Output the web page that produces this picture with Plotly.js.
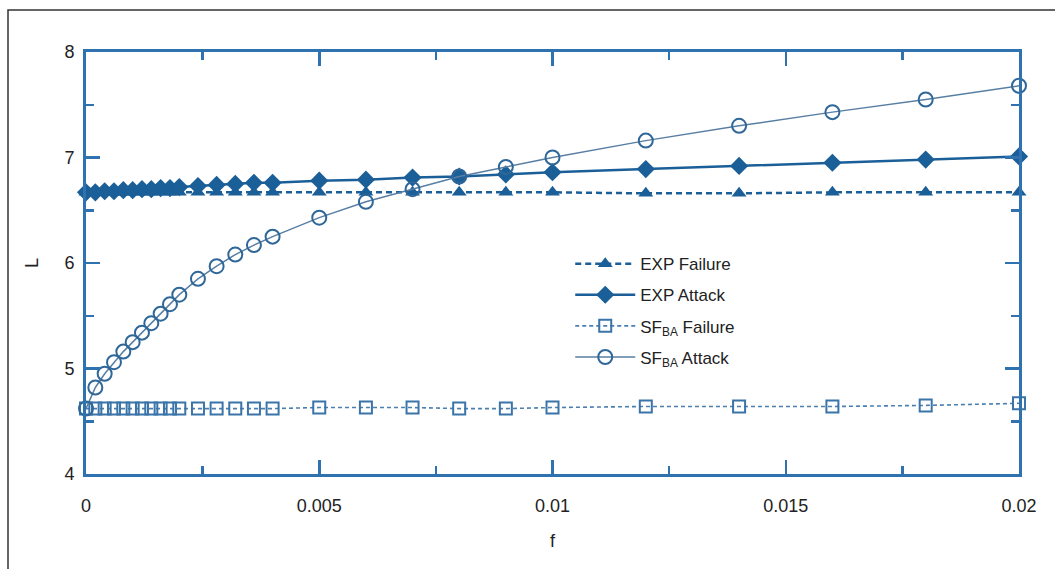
<!DOCTYPE html>
<html>
<head>
<meta charset="utf-8">
<script src="https://cdn.plot.ly/plotly-3.0.1.min.js"></script>
<style>html,body{margin:0;padding:0;background:#fff;}#chart{width:1055px;height:569px;}</style>
</head>
<body>
<div id="chart"></div>
<script>
// fraction of nodes removed
const fValues = [0,0.0002,0.0004,0.0006,0.0008,0.001,0.0012,0.0014,0.0016,0.0018,0.002,
  0.0024,0.0028,0.0032,0.0036,0.004,0.005,0.006,0.007,0.008,0.009,0.01,
  0.012,0.014,0.016,0.018,0.02];
const expFailure = [6.67,6.67,6.67,6.67,6.67,6.67,6.67,6.67,6.67,6.67,6.67,
  6.67,6.67,6.67,6.67,6.67,6.67,6.67,6.67,6.67,6.67,6.67,
  6.66,6.66,6.67,6.67,6.67];
const expAttack = [6.67,6.67,6.68,6.68,6.69,6.69,6.70,6.70,6.71,6.71,6.72,
  6.73,6.74,6.75,6.76,6.76,6.78,6.79,6.81,6.82,6.84,6.86,
  6.89,6.92,6.95,6.98,7.01];
const sfFailure = [4.62,4.62,4.62,4.62,4.62,4.62,4.62,4.62,4.62,4.62,4.62,
  4.62,4.62,4.62,4.62,4.62,4.63,4.63,4.63,4.62,4.62,4.63,
  4.64,4.64,4.64,4.65,4.67];
const sfAttack = [4.62,4.82,4.95,5.06,5.16,5.25,5.34,5.43,5.52,5.61,5.70,
  5.85,5.97,6.08,6.17,6.25,6.43,6.58,6.70,6.82,6.91,7.00,
  7.16,7.30,7.43,7.55,7.68];
const seriesNames = ['EXP Failure','EXP Attack','SF<sub>BA</sub> Failure','SF<sub>BA</sub> Attack'];
const xTickVals = [0,0.005,0.01,0.015,0.02];
const xTickText = ['0','0.005','0.01','0.015','0.02'];
const yTickVals = [4,5,6,7,8];
const yTickText = ['4','5','6','7','8'];

const C = '#1b5f98';
const AX = '#2f72b0';
const traces = [
  {x: fValues, y: expFailure, name: seriesNames[0], legendgroup: 'g1', mode: 'lines+markers',
   line: {color: C, width: 2.5, dash: '6px,4px'},
   marker: {symbol: 'triangle-up', size: 13, color: C}},
  {x: fValues, y: expAttack, name: seriesNames[1], legendgroup: 'g2', mode: 'lines+markers',
   line: {color: C, width: 2.5},
   marker: {symbol: 'diamond', size: 14, color: C}},
  {x: fValues, y: sfFailure, name: seriesNames[2], legendgroup: 'g3', mode: 'lines+markers',
   line: {color: '#4a7fae', width: 1.6, dash: '4px,3px'},
   marker: {symbol: 'square-open', size: 12, color: '#3a74a8', line: {width: 2}}},
  {x: fValues, y: sfAttack, name: seriesNames[3], legendgroup: 'g4', mode: 'lines+markers',
   line: {color: '#587fa3', width: 1.5},
   marker: {symbol: 'circle-open', size: 14, color: '#2f6799', line: {width: 2}}}
].map(t => Object.assign(t, {cliponaxis: false}));

const layout = {
  width: 1055, height: 569,
  margin: {l: 86, r: 36, t: 52, b: 95},
  paper_bgcolor: '#fff', plot_bgcolor: '#fff',
  font: {family: 'Liberation Sans, Arial, sans-serif', size: 18, color: '#222'},
  showlegend: true,
  legend: {x: 0.519, y: 0.54, xanchor: 'left', yanchor: 'top', bgcolor: 'rgba(0,0,0,0)',
    font: {family: 'Liberation Sans, Arial', size: 17, color: '#222'},
    itemwidth: 60, tracegroupgap: 6},
  xaxis: {range: [0, 0.02], tickvals: xTickVals, ticktext: xTickText,
    ticks: 'inside', ticklen: 14, tickwidth: 2.5, tickcolor: AX,
    showline: true, linecolor: AX, linewidth: 3, mirror: 'ticks',
    showgrid: false, zeroline: false, ticklabelstandoff: 13,
    minor: {dtick: 0.0025, tick0: 0, ticks: 'inside', ticklen: 8, tickwidth: 2.5, tickcolor: AX, showgrid: false},
    title: {text: 'f', standoff: 20, font: {size: 18}}},
  yaxis: {range: [4, 8], tickvals: yTickVals, ticktext: yTickText,
    ticks: 'inside', ticklen: 14, tickwidth: 2.5, tickcolor: AX,
    showline: true, linecolor: AX, linewidth: 3, mirror: 'ticks',
    showgrid: false, zeroline: false, ticklabelstandoff: 5,
    minor: {dtick: 0.5, tick0: 4, ticks: 'inside', ticklen: 8, tickwidth: 2.5, tickcolor: AX, showgrid: false},
    title: {text: 'L', standoff: 22, font: {size: 18}}},
  shapes: [{type: 'rect', xref: 'paper', yref: 'paper',
    x0: -78/933, x1: 1.2, y0: -0.5, y1: 1 + 42/422,
    line: {color: '#333', width: 1.5}, fillcolor: 'rgba(0,0,0,0)', layer: 'below'}]
};

Plotly.newPlot('chart', traces, layout, {displayModeBar: false, staticPlot: true});
</script>
</body>
</html>
